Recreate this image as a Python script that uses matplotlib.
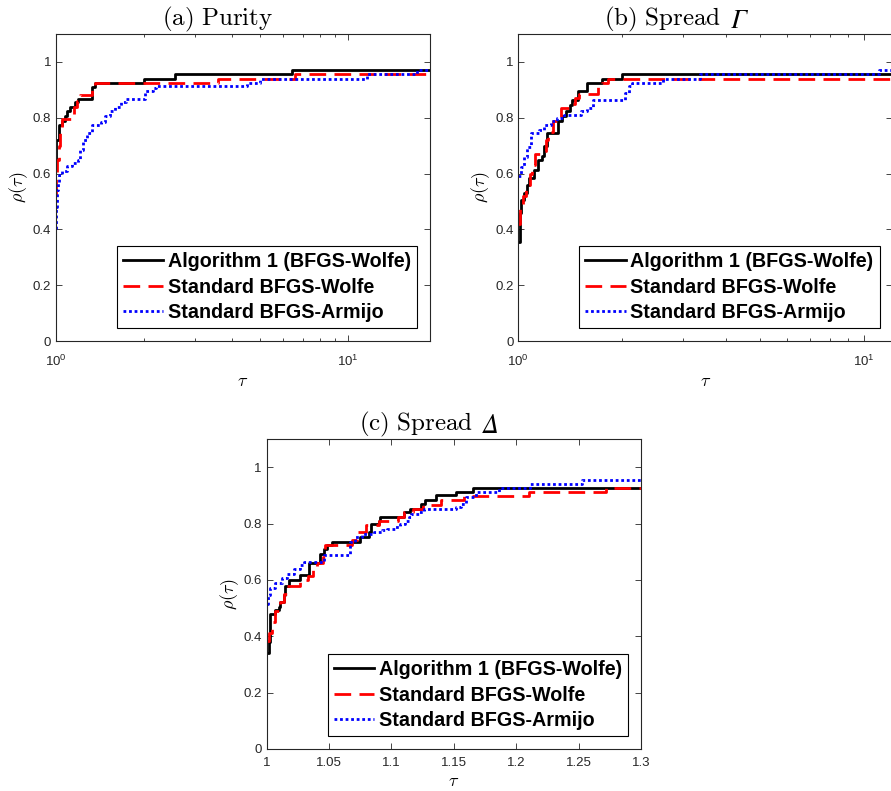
import numpy as np
import matplotlib
matplotlib.use("Agg")
import matplotlib.pyplot as plt
from matplotlib.ticker import LogLocator, NullFormatter, FuncFormatter, LogFormatterSciNotation

plt.rcParams['font.family'] = ['Liberation Sans', 'DejaVu Sans']
plt.rcParams['mathtext.fontset'] = 'cm'

labels = ["Algorithm 1 (BFGS-Wolfe)", "Standard BFGS-Wolfe", "Standard BFGS-Armijo"]

# (a) Purity  -- tau breakpoints / rho values (steps)
a_alg_tau = [1.0, 1.002, 1.027, 1.048, 1.071, 1.09, 1.12, 1.158, 1.19, 1.328, 1.363, 1.995, 2.55, 6.42]
a_alg_rho = [0.65, 0.72, 0.775, 0.787, 0.805, 0.823, 0.84, 0.855, 0.867, 0.91, 0.926, 0.94, 0.955, 0.972]
a_wol_tau = [1.0, 1.003, 1.01, 1.02, 1.035, 1.05, 1.15, 1.18, 1.21, 1.33, 1.36, 3.59, 6.58]
a_wol_rho = [0.52, 0.58, 0.65, 0.70, 0.75, 0.795, 0.84, 0.86, 0.88, 0.91, 0.925, 0.94, 0.955]
a_arm_tau = [1.0, 1.003, 1.01, 1.016, 1.027, 1.048, 1.09, 1.135, 1.185, 1.21, 1.24, 1.28, 1.33,
             1.43, 1.47, 1.53, 1.59, 1.67, 1.73, 2.02, 2.14, 2.2, 4.5, 4.99, 11.6, 17.2]
a_arm_rho = [0.40, 0.48, 0.54, 0.57, 0.595, 0.61, 0.626, 0.638, 0.65, 0.685, 0.72, 0.745, 0.775,
             0.783, 0.805, 0.823, 0.84, 0.855, 0.867, 0.895, 0.907, 0.913, 0.925, 0.94, 0.957, 0.97]
a_taumax = 19.1

# (b) Spread Gamma
b_alg_tau = [1.0, 1.011, 1.02, 1.038, 1.057, 1.074, 1.11, 1.14, 1.17, 1.19, 1.21, 1.306, 1.34,
             1.37, 1.41, 1.43, 1.49, 1.577, 1.75, 1.99]
b_alg_rho = [0.356, 0.46, 0.505, 0.53, 0.56, 0.584, 0.614, 0.65, 0.662, 0.70, 0.745, 0.787, 0.805,
             0.823, 0.847, 0.865, 0.895, 0.925, 0.939, 0.955]
b_wol_tau = [1.0, 1.01, 1.03, 1.05, 1.08, 1.095, 1.12, 1.16, 1.2, 1.22, 1.26, 1.3, 1.33, 1.42,
             1.46, 1.5, 1.7, 1.75, 1.82]
b_wol_rho = [0.42, 0.48, 0.52, 0.56, 0.60, 0.63, 0.67, 0.68, 0.72, 0.75, 0.79, 0.80, 0.835, 0.85,
             0.87, 0.886, 0.91, 0.925, 0.94]
b_arm_tau = [1.0, 1.016, 1.038, 1.062, 1.086, 1.148, 1.187, 1.24, 1.297, 1.36, 1.515, 1.58, 1.64,
             2.03, 2.09, 2.13, 2.62, 3.36, 11.1]
b_arm_rho = [0.59, 0.625, 0.66, 0.695, 0.745, 0.757, 0.775, 0.787, 0.80, 0.81, 0.823, 0.835, 0.865,
             0.89, 0.913, 0.925, 0.94, 0.955, 0.97]
b_taumax = 12.1

# (c) Spread Delta
c_alg_tau = [1.0, 1.0015, 1.003, 1.007, 1.0096, 1.011, 1.0136, 1.015, 1.0176, 1.027, 1.0336, 1.043,
             1.046, 1.048, 1.052, 1.075, 1.082, 1.084, 1.09, 1.091, 1.11, 1.115, 1.124, 1.127,
             1.136, 1.152, 1.165]
c_alg_rho = [0.339, 0.38, 0.48, 0.492, 0.504, 0.522, 0.545, 0.58, 0.60, 0.616, 0.66, 0.693,
             0.71, 0.723, 0.735, 0.752, 0.77, 0.80, 0.81, 0.823, 0.84, 0.852, 0.87, 0.882,
             0.90, 0.911, 0.927]
c_wol_tau = [1.0, 1.002, 1.004, 1.007, 1.011, 1.014, 1.016, 1.027, 1.033, 1.037, 1.04, 1.045, 1.047,
             1.068, 1.072, 1.08, 1.09, 1.105, 1.11, 1.117, 1.125, 1.14, 1.158, 1.21, 1.272]
c_wol_rho = [0.385, 0.41, 0.45, 0.49, 0.52, 0.55, 0.58, 0.60, 0.615, 0.635, 0.66, 0.68, 0.725,
             0.74, 0.77, 0.795, 0.81, 0.825, 0.84, 0.85, 0.865, 0.882, 0.897, 0.911, 0.926]
c_arm_tau = [1.0, 1.0008, 1.0027, 1.007, 1.0123, 1.0163, 1.0216, 1.027, 1.0296, 1.0457, 1.0671,
             1.071, 1.0767, 1.0857, 1.0924, 1.0964, 1.103, 1.107, 1.111, 1.114, 1.116, 1.122,
             1.126, 1.152, 1.156, 1.16, 1.168, 1.186, 1.211, 1.2525]
c_arm_rho = [0.516, 0.546, 0.57, 0.588, 0.606, 0.622, 0.64, 0.652, 0.664, 0.688, 0.735,
             0.752, 0.764, 0.77, 0.776, 0.782, 0.788, 0.80, 0.81, 0.823, 0.835, 0.84,
             0.852, 0.86, 0.869, 0.893, 0.911, 0.927, 0.941, 0.956]
c_taumax = 1.3

colors = ['black', '#ff0000', '#0000ff']
styles = ['-', (0, (6, 3)), (0, (1, 1))]
axcol = '#262626'


def draw_panel(ax, series, taumax, title, sym, tx, logx):
    for (tau, rho), c, ls, lab in zip(series, colors, styles, labels):
        x = list(tau) + [taumax]
        y = list(rho) + [rho[-1]]
        ax.step(x, y, where='post', color=c, linestyle=ls, lw=2, label=lab)
    if logx:
        ax.set_xscale('log')
        ax.xaxis.set_major_locator(LogLocator(base=10))
        ax.xaxis.set_minor_locator(LogLocator(base=10, subs=np.arange(2, 10)))
        ax.xaxis.set_minor_formatter(NullFormatter())
        ax.xaxis.set_major_formatter(LogFormatterSciNotation())
        ax.tick_params(axis='x', which='major', pad=9)
    else:
        ax.set_xticks(np.arange(1.0, 1.3001, 0.05))
        ax.xaxis.set_major_formatter(FuncFormatter(lambda v, p: '%g' % round(v, 3)))
        ax.tick_params(axis='x', which='major', pad=6)
    ax.set_xlim(1, taumax)
    ax.set_ylim(0, 1.1)
    ax.set_yticks([0, 0.2, 0.4, 0.6, 0.8, 1.0])
    ax.yaxis.set_major_formatter(FuncFormatter(lambda v, p: '%g' % round(v, 3)))
    ax.tick_params(which='both', direction='in', top=True, right=True, colors=axcol,
                   labelsize=9.5, width=0.6)
    ax.tick_params(which='major', length=4.5)
    ax.tick_params(which='minor', length=2.5)
    for s in ax.spines.values():
        s.set_color(axcol)
        s.set_linewidth(0.8)
    t = ax.set_title(title, fontsize=18, pad=5, x=tx)
    if sym is not None:
        ax.annotate(sym, xy=(1, 0.2), xycoords=t, xytext=(7, 0), textcoords='offset points',
                    ha='left', va='baseline', fontsize=19, fontstyle='italic',
                    family=['STIXGeneral', 'DejaVu Serif'])
    ax.set_xlabel(r'$\tau$', fontsize=13, labelpad=3)
    ax.set_ylabel(r'$\rho(\tau)$', fontsize=13, labelpad=2)
    leg = ax.legend(loc='lower right', fancybox=False, framealpha=1, edgecolor='black',
                    prop={'weight': 'bold', 'size': 14.2}, handlelength=2.05,
                    labelspacing=0.33, borderaxespad=0.65, handletextpad=0.25, borderpad=0.3)
    leg.get_frame().set_linewidth(0.8)


fig = plt.figure(figsize=(8.91, 7.91), dpi=100)
ax_a = fig.add_axes([0.0629, 0.5689, 0.4198, 0.3881])
ax_b = fig.add_axes([0.5817, 0.5689, 0.4198, 0.3881])
ax_c = fig.add_axes([0.2993, 0.0531, 0.4201, 0.3919])

draw_panel(ax_a, [(a_alg_tau, a_alg_rho), (a_wol_tau, a_wol_rho), (a_arm_tau, a_arm_rho)],
           a_taumax, r'$\mathrm{(a)\ Purity}$', None, 0.433, True)
draw_panel(ax_b, [(b_alg_tau, b_alg_rho), (b_wol_tau, b_wol_rho), (b_arm_tau, b_arm_rho)],
           b_taumax, r'$\mathrm{(b)\ Spread}$', 'Γ', 0.385, True)
draw_panel(ax_c, [(c_alg_tau, c_alg_rho), (c_wol_tau, c_wol_rho), (c_arm_tau, c_arm_rho)],
           c_taumax, r'$\mathrm{(c)\ Spread}$', 'Δ', 0.40, False)

fig.savefig('out.png', dpi=100)
